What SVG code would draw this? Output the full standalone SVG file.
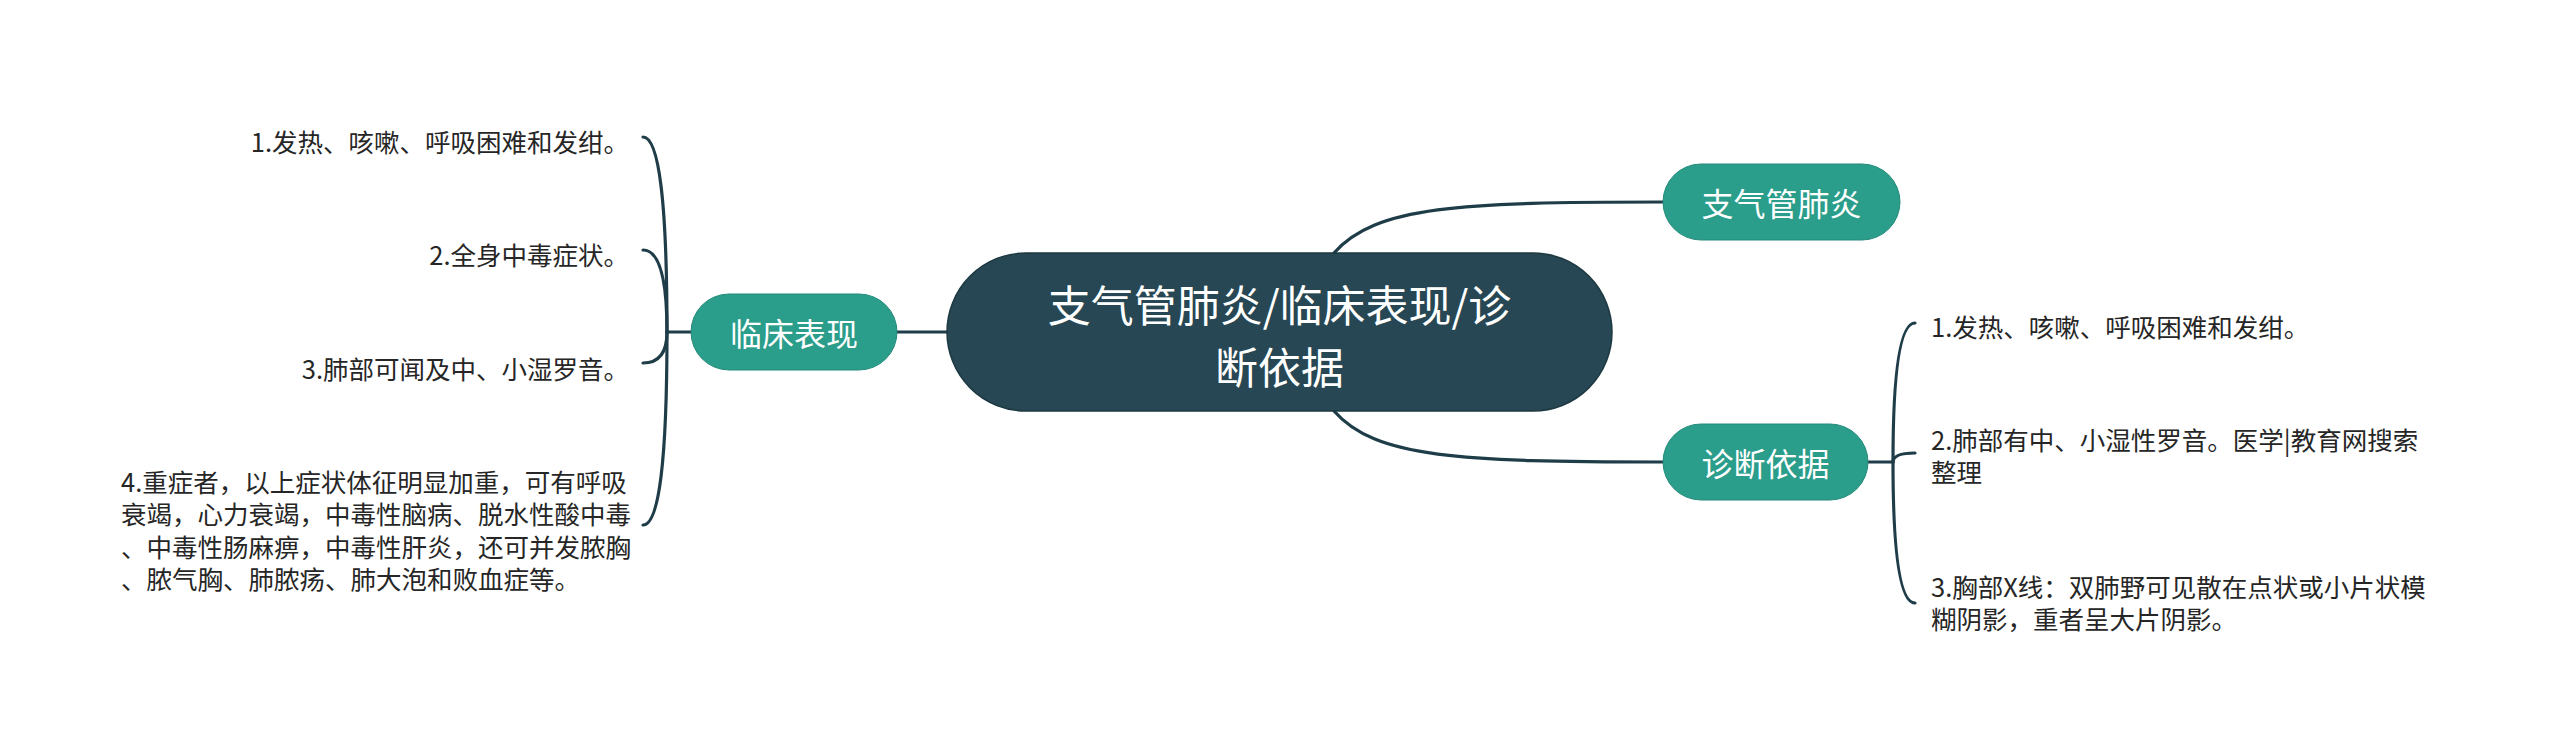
<svg xmlns="http://www.w3.org/2000/svg" width="2560" height="753" viewBox="0 0 2560 753">
<style>
text{font-family:"Noto Sans CJK SC","Noto Sans",sans-serif;dominant-baseline:central}
.conn{fill:none;stroke:#1f3d48;stroke-width:3.2;stroke-linecap:round}
.root{fill:#264753;stroke:#1d3942;stroke-width:1.5}
.sub{fill:#2a9d8b;stroke:#248a7a;stroke-width:1}
.rt{fill:#ffffff;font-size:43px;text-anchor:middle}
.st{fill:#ffffff;font-size:32px;text-anchor:middle}
.lt{fill:#262626;font-size:25.5px}
.end{text-anchor:end}
</style>
<rect width="2560" height="753" fill="#ffffff"/>
<g id="connectors">
<path class="conn" d="M897 332 L947 332"/>
<path class="conn" d="M1334 253 C1375 206 1460 202 1663 202"/>
<path class="conn" d="M1334 411 C1375 458 1460 462 1663 462"/>
<path class="conn" d="M691 332 L667 332"/>
<path class="conn" d="M667 332 Q667 137 643 137"/>
<path class="conn" d="M667 332 Q667 250 643 250"/>
<path class="conn" d="M667 332 Q667 363 643 363"/>
<path class="conn" d="M667 332 Q667 525 643 525"/>
<path class="conn" d="M1868 462 L1893 462"/>
<path class="conn" d="M1893 462 Q1893 323 1915 323"/>
<path class="conn" d="M1893 462 Q1893 453 1915 453"/>
<path class="conn" d="M1893 462 Q1893 603 1915 603"/>
</g>
<g id="root">
<rect class="root" x="947" y="253" width="665" height="158" rx="79"/>
<text class="rt" x="1279.5" y="303">支气管肺炎/临床表现/诊</text>
<text class="rt" x="1279.5" y="365">断依据</text>
</g>
<g id="node-linchuang">
<rect class="sub" x="691" y="294" width="206" height="76" rx="38"/>
<text class="st" x="794" y="332">临床表现</text>
</g>
<g id="node-zhiqiguan">
<rect class="sub" x="1663" y="164" width="237" height="76" rx="38"/>
<text class="st" x="1781.5" y="202">支气管肺炎</text>
</g>
<g id="node-zhenduan">
<rect class="sub" x="1663" y="424" width="205" height="76" rx="38"/>
<text class="st" x="1765.5" y="462">诊断依据</text>
</g>
<g id="leaf-l1"><text class="lt end" x="629" y="140">1.发热、咳嗽、呼吸困难和发绀。</text></g>
<g id="leaf-l2"><text class="lt end" x="629" y="253">2.全身中毒症状。</text></g>
<g id="leaf-l3"><text class="lt end" x="629" y="367">3.肺部可闻及中、小湿罗音。</text></g>
<g id="leaf-l4">
<text class="lt" x="121" y="480">4.重症者，以上症状体征明显加重，可有呼吸</text>
<text class="lt" x="121" y="512.5">衰竭，心力衰竭，中毒性脑病、脱水性酸中毒</text>
<text class="lt" x="121" y="545">、中毒性肠麻痹，中毒性肝炎，还可并发脓胸</text>
<text class="lt" x="121" y="577.5">、脓气胸、肺脓疡、肺大泡和败血症等。</text>
</g>
<g id="leaf-r1"><text class="lt" x="1931" y="325">1.发热、咳嗽、呼吸困难和发绀。</text></g>
<g id="leaf-r2">
<text class="lt" x="1931" y="438">2.肺部有中、小湿性罗音。医学|教育网搜索</text>
<text class="lt" x="1931" y="470">整理</text>
</g>
<g id="leaf-r3">
<text class="lt" x="1931" y="585">3.胸部X线：双肺野可见散在点状或小片状模</text>
<text class="lt" x="1931" y="617">糊阴影，重者呈大片阴影。</text>
</g>
</svg>
